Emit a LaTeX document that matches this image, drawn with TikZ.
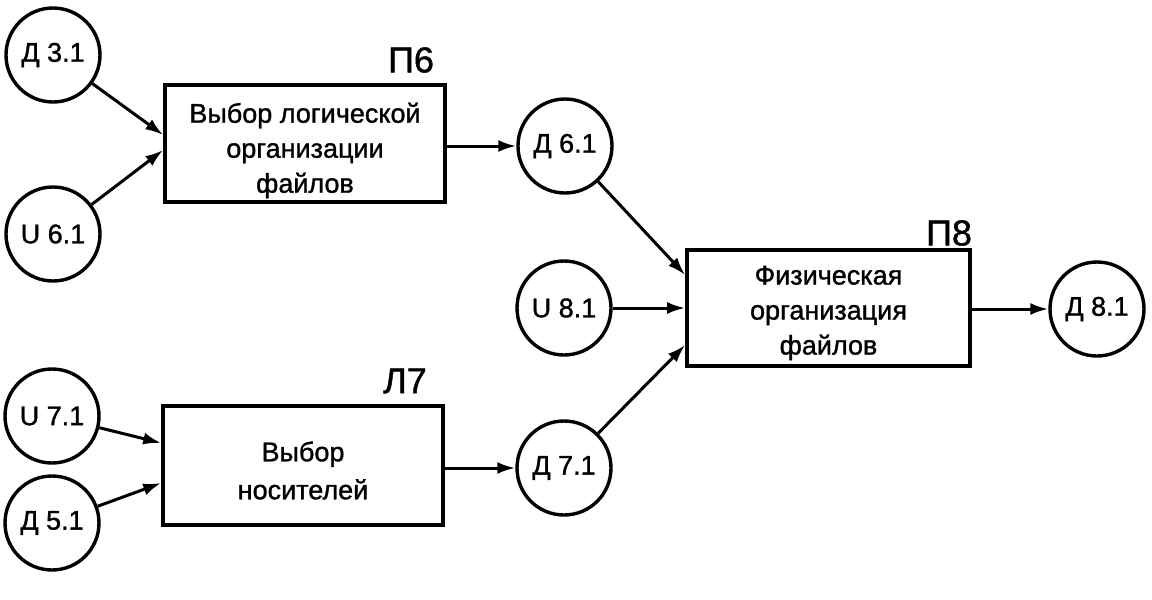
\documentclass[tikz,border=0pt]{standalone}
\usepackage{fontspec}
\setmainfont{Liberation Sans}[FakeBold=1.2]
\usetikzlibrary{arrows.meta}
\begin{document}
\begin{tikzpicture}[x=0.5pt,y=-0.5pt,
  circ/.style={circle,draw,line width=1.7pt,minimum size=47pt,inner sep=0pt,font=\fontsize{13.5}{15}\selectfont},
  proc/.style={draw,line width=1.8pt,inner sep=0pt},
  boxtext/.style={inner sep=0pt,align=center,font=\fontsize{13.5}{17.5}\selectfont},
  tag/.style={font=\fontsize{18}{20}\selectfont,inner sep=0pt},
  arr/.style={line width=1.5pt,-{Latex[length=9pt,width=6pt]}}]
\useasboundingbox (0,0) rectangle (1152,600);
% circles
\node[circ] (d31) at (53,55) {Д 3.1};
\node[circ] (u61) at (53,234) {U 6.1};
\node[circ] (u71) at (52,416) {U 7.1};
\node[circ] (d51) at (52,523) {Д 5.1};
\node[circ] (d61) at (565,146) {Д 6.1};
\node[circ] (u81) at (564,308) {U 8.1};
\node[circ] (d71) at (564,468) {Д 7.1};
\node[circ] (d81) at (1097,309) {Д 8.1};
% boxes
\node[proc,minimum width=140pt,minimum height=58.5pt] (p6) at (305,143.5) {};
\node[proc,minimum width=140pt,minimum height=59.5pt] (p7) at (303,465.5) {};
\node[proc,minimum width=141.5pt,minimum height=58pt] (p8) at (828.5,308) {};
\node[boxtext] (p6t) at ([yshift=-3.5pt]p6.center) {Выбор логической\\организации\\файлов};
\node[boxtext,font=\fontsize{13.5}{19}\selectfont] (p7t) at ([yshift=-2.5pt]p7.center) {Выбор\\носителей};
\node[boxtext] (p8t) at ([yshift=-2.5pt]p8.center) {Физическая\\организация\\файлов};
% tags
\node[tag] (t6) at (411,60) {П6};
\node[tag] (t7) at (405,381) {Л7};
\node[tag] (t8) at (949,233) {П8};
% connectors
\draw[arr] (d31) -- ([yshift=4.25pt]p6.west);
\draw[arr] (u61) -- ([yshift=-3.25pt]p6.west);
\draw[arr] (u71) -- ([yshift=11.25pt]p7.west);
\draw[arr] (d51) -- ([yshift=-8.75pt]p7.west);
\draw[arr] (p6.east |- d61) -- (d61);
\draw[arr] (p7.east |- d71) -- (d71);
\draw[arr] (d61) -- ([yshift=16.5pt]p8.west);
\draw[arr] (u81) -- (p8.west);
\draw[arr] (d71) -- ([yshift=-18.5pt]p8.west);
\draw[arr] (p8.east |- d81) -- (d81);
\end{tikzpicture}
\end{document}
